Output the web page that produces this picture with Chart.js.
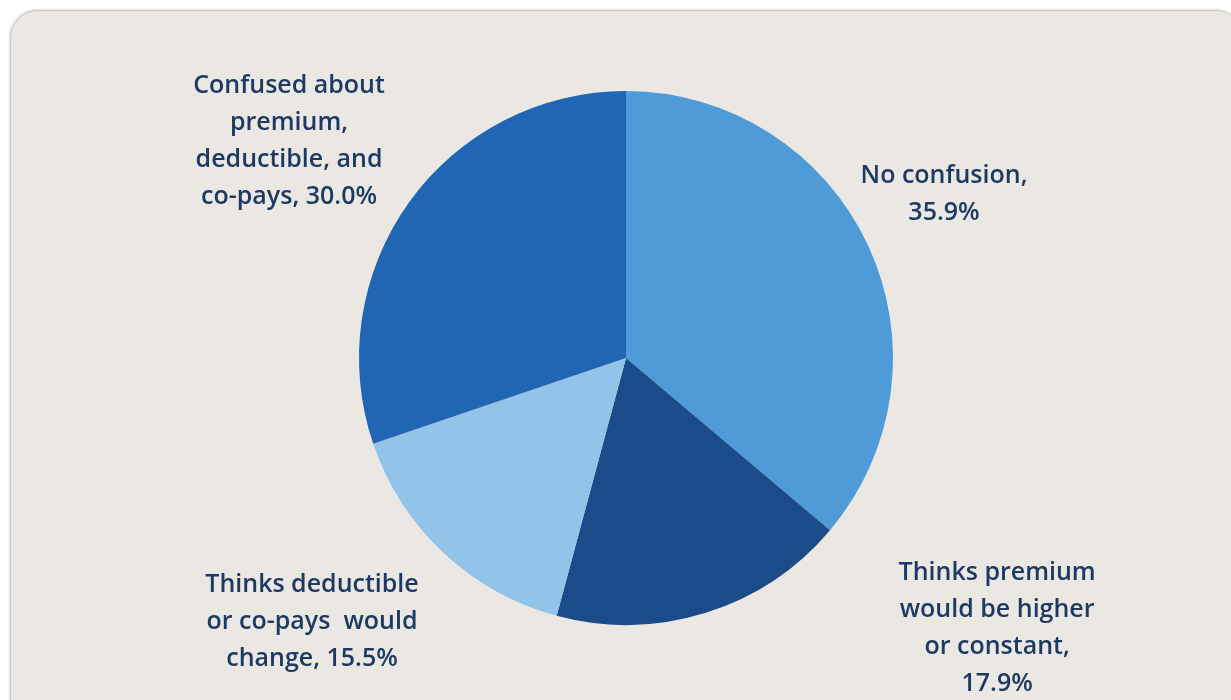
<!DOCTYPE html>
<html>
<head>
<meta charset="utf-8">
<script src="https://cdn.jsdelivr.net/npm/chart.js@4/dist/chart.umd.min.js"></script>
<style>
  html, body { margin: 0; padding: 0; background: #fff; overflow: hidden; }
  .panel {
    position: absolute; left: 10px; top: 10px; width: 1232px; height: 720px;
    background: #ebe8e4; border: 1px solid #c9c7c4; border-radius: 28px;
    box-shadow: -1px -1px 2px rgba(0,0,0,0.12);
  }
  #wrap { position: absolute; left: 0; top: 0; width: 1231px; height: 700px; }
</style>
</head>
<body>
<div class="panel"></div>
<div id="wrap"><canvas id="pie"></canvas></div>
<script>
// data
const categories = [
    'No confusion',
    'Thinks premium would be higher or constant',
    'Thinks deductible or co-pays would change',
    'Confused about premium, deductible, and co-pays'
];
const shares = [35.9, 17.9, 15.5, 30.0];
const sliceColors = ['#4f9bd8', '#1b4c89', '#92c3e9', '#2166b5'];

// label text lines and where they sit (relative to pie centre, in radii)
const labelLines = [
    ['No confusion,', '35.9%'],
    ['Thinks premium', 'would be higher', 'or constant,', '17.9%'],
    ['Thinks deductible', 'or co-pays  would', 'change, 15.5%'],
    ['Confused about', 'premium,', 'deductible, and', 'co-pays, 30.0%']
];
const labelPos = [
    [1.191, -0.612],
    [1.39, 1.011],
    [-1.176, 0.989],
    [-1.262, -0.813]
];

// 画标签
const labelPlugin = {
    id: 'pieLabels',
    afterDatasetsDraw(chart) {
        const ctx = chart.ctx;
        const arc = chart.getDatasetMeta(0).data[0];
        const cx = arc.x, cy = arc.y, r = arc.outerRadius;
        const lh = 37;
        ctx.save();
        ctx.fillStyle = '#1c3a63';
        ctx.font = '600 25px "Open Sans"';
        ctx.textAlign = 'center';
        ctx.textBaseline = 'middle';
        labelLines.forEach((lines, i) => {
            const x = cx + labelPos[i][0] * r;
            const y0 = cy + labelPos[i][1] * r - (lines.length - 1) * lh / 2;
            lines.forEach((t, j) => ctx.fillText(t, x, y0 + j * lh));
        });
        ctx.restore();
    }
};

new Chart(document.getElementById('pie'), {
    type: 'pie',
    data: {
        labels: categories,
        datasets: [{
            data: shares,
            backgroundColor: sliceColors,
            borderWidth: 0
        }]
    },
    options: {
        responsive: true,
        maintainAspectRatio: false,
        animation: false,
        layout: { padding: { left: 359, right: 338, top: 91, bottom: 75 } },
        plugins: {
            legend: { display: false },
            tooltip: { enabled: false }
        }
    },
    plugins: [labelPlugin]
});
</script>
</body>
</html>
